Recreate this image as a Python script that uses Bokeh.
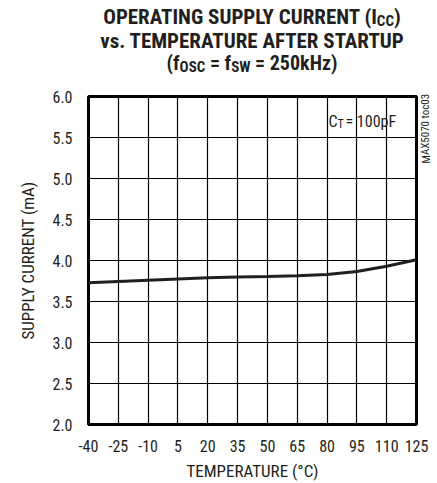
from bokeh.plotting import figure
from bokeh.models import FixedTicker, Label, Range1d, Div
from bokeh.layouts import column
from bokeh.embed import file_html
from bokeh.resources import INLINE

# ---- data ----
temperature = [-40, -25, -10, 5, 20, 35, 50, 65, 80, 95, 110, 125]
supply_current = [3.73, 3.745, 3.76, 3.775, 3.79, 3.80, 3.805, 3.815, 3.83, 3.865, 3.93, 4.01]
x_ticks = [-40, -25, -10, 5, 20, 35, 50, 65, 80, 95, 110, 125]
x_tick_labels = ["-40", "-25", "-10", "5", "20", "35", "50", "65", "80", "95", "110", "125"]
y_ticks = [2.0, 2.5, 3.0, 3.5, 4.0, 4.5, 5.0, 5.5, 6.0]
y_tick_labels = ["2.0", "2.5", "3.0", "3.5", "4.0", "4.5", "5.0", "5.5", "6.0"]

FONT = "Roboto Condensed"
INK = "#231f20"

W = 433
DIV_H = 88
FL, FT, FW, FH = 88, 96, 328, 328   # frame left/top/width/height in page pixels

# ---- title (HTML, with real subscripts) ----
sub = "font-size:15px;position:relative;top:2px;"
title_html = (
    f'<div style="width:{FW}px;margin-left:{FL}px;padding-top:6px;text-align:center;'
    f'font-family:\'{FONT}\';font-weight:bold;font-size:21px;line-height:22px;color:{INK};white-space:nowrap;">'
    f'<div>OPERATING SUPPLY CURRENT (I<span style="{sub}">CC</span>)</div>'
    f'<div>vs. TEMPERATURE AFTER STARTUP</div>'
    f'<div style="font-size:20px;">(f<span style="{sub}">OSC</span> = f<span style="{sub}">SW</span> = 250kHz)</div>'
    f'</div>'
)
title = Div(text=title_html, width=W, height=DIV_H, margin=0)

p = figure(width=W, height=475 - DIV_H, frame_width=FW, frame_height=FH,
           x_range=Range1d(-40, 125), y_range=Range1d(2.0, 6.0),
           output_backend="svg", toolbar_location=None, margin=0,
           min_border_left=FL, min_border_top=FT - DIV_H, min_border_right=W - FL - FW,
           min_border_bottom=51)

p.outline_line_color = "black"
p.outline_line_width = 3
p.background_fill_color = "white"
p.border_fill_color = "white"

p.xaxis.ticker = FixedTicker(ticks=x_ticks)
p.yaxis.ticker = FixedTicker(ticks=y_ticks)
p.xaxis.major_label_overrides = dict(zip(x_ticks, x_tick_labels))
p.yaxis.major_label_overrides = dict(zip(y_ticks, y_tick_labels))

for ax in (p.xaxis[0], p.yaxis[0]):
    ax.axis_line_color = None
    ax.major_tick_line_color = None
    ax.minor_tick_line_color = None
    ax.major_tick_out = 0
    ax.major_tick_in = 0
    ax.major_label_text_font = FONT
    ax.major_label_text_font_size = "16px"
    ax.major_label_text_color = INK
    ax.axis_label_text_font = FONT
    ax.axis_label_text_font_size = "17px"
    ax.axis_label_text_font_style = "normal"
    ax.axis_label_text_color = INK

p.xaxis.axis_label = "TEMPERATURE (°C)"
p.yaxis.axis_label = "SUPPLY CURRENT (mA)"
p.xaxis.major_label_standoff = 15
p.xaxis.axis_label_standoff = 6
p.yaxis.major_label_standoff = 16
p.yaxis.axis_label_standoff = 11

p.xgrid.grid_line_color = "black"
p.ygrid.grid_line_color = "black"
p.xgrid.grid_line_width = 1.2
p.ygrid.grid_line_width = 1.2

p.line(temperature, supply_current, line_width=3, line_color=INK)


def inner(text, px, py, size, align="left"):
    """Text piece inside the frame at reference-page pixel (px, py) (baseline)."""
    p.add_layout(Label(x=px - FL, y=FT + FH - py, x_units="screen", y_units="screen", text=text,
                       text_font=FONT, text_font_size=size, text_align=align,
                       text_baseline="alphabetic", text_color=INK))


# C_T annotation inside the frame
inner("C", 337, 121, "16px", "right")
inner("T", 337, 123, "12px", "left")
inner("= 100pF", 345, 121, "16px", "left")

# side code in the right panel, reading bottom-to-top
side = Label(x=425.5 - (FL + FW), y=FT + FH - 163, x_units="screen", y_units="screen",
             text="MAX5070 toc03", text_font=FONT, text_font_size="11px",
             text_align="left", text_baseline="middle", angle=1.5708, text_color=INK)
p.add_layout(side, "right")

layout = column(title, p, spacing=0, margin=0)
open("out.html", "w").write(file_html(layout, INLINE))
